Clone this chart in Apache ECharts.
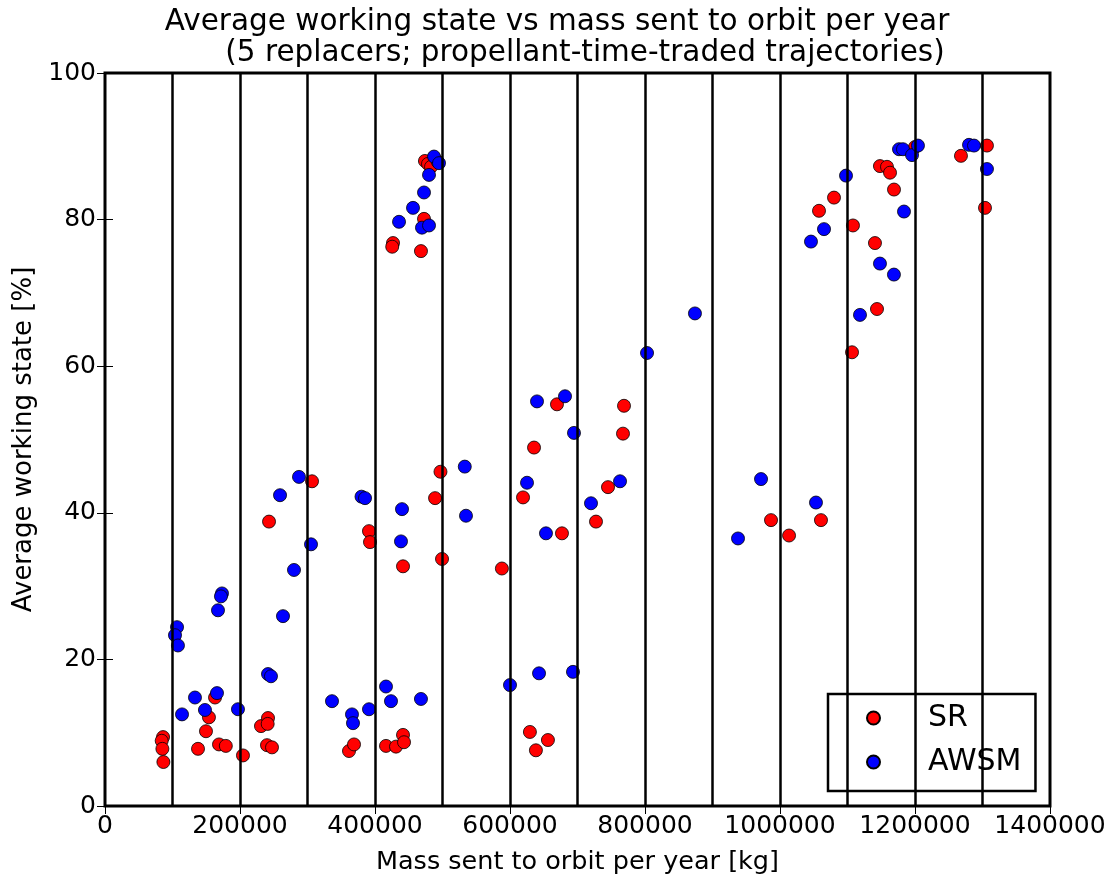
<!DOCTYPE html>
<html>
<head>
<meta charset="utf-8">
<script src="https://cdn.jsdelivr.net/npm/echarts@6/dist/echarts.min.js"></script>
<style>
  html, body { margin: 0; padding: 0; background: #fff; }
  #chart { width: 1113px; height: 880px; }
</style>
</head>
<body>
<div id="chart"></div>
<script>
// Mass sent to orbit per year [kg] vs average working state [%]
const srPoints = [
  [86000, 9.4], [84000, 8.9], [85000, 7.8], [86500, 6.0],
  [137800, 7.8], [149600, 10.2], [154000, 12.1], [163000, 14.8], [168900, 8.4], [179000, 8.2],
  [204400, 6.9], [231100, 10.9], [241500, 12.0], [241000, 11.2], [240000, 8.3], [247400, 8.0],
  [243000, 38.8], [306700, 44.3], [391100, 37.5], [392600, 36.0], [441500, 32.7],
  [489000, 42.0], [497000, 45.6], [499300, 33.7],
  [361500, 7.5], [368900, 8.4], [416300, 8.2], [431100, 8.1], [441500, 9.7], [443000, 8.7],
  [426700, 76.8], [425500, 76.3], [468100, 75.7], [472600, 80.1],
  [474000, 88.0], [478500, 87.6], [483000, 87.2], [493000, 87.9],
  [588000, 32.4], [629500, 10.1], [638400, 7.6], [656200, 9.0],
  [619300, 42.1], [635600, 48.9], [669600, 54.8], [677000, 37.2],
  [727400, 38.8], [745200, 43.5], [767400, 50.8], [768900, 54.6],
  [986700, 39.0], [1013400, 36.9], [1060700, 39.0],
  [1106700, 61.9], [1143700, 67.8],
  [1057800, 81.2], [1080000, 83.0], [1108100, 79.2], [1140700, 76.8],
  [1148100, 87.3], [1158500, 87.2], [1163000, 86.4], [1168900, 84.1],
  [1200000, 89.9], [1268100, 88.7], [1306600, 90.1], [1303700, 81.6]
];

const awsmPoints = [
  [106700, 24.4], [103700, 23.3], [108100, 21.9], [114100, 12.5], [133300, 14.8], [148100, 13.1],
  [165900, 15.4], [167400, 26.7], [173300, 29.0], [171800, 28.6], [197000, 13.2],
  [241500, 18.0], [245900, 17.7], [263700, 25.9], [259300, 42.4], [280000, 32.2], [287400, 44.9],
  [305200, 35.7], [336300, 14.3], [365900, 12.5], [367400, 11.3], [380000, 42.2], [385200, 42.0],
  [391100, 13.2], [416300, 16.3], [423700, 14.3], [438500, 36.1], [440000, 40.5], [468100, 14.6],
  [435600, 79.7], [456300, 81.6], [469600, 78.9], [480000, 79.2], [472600, 83.7], [480000, 86.1],
  [487400, 88.6], [494800, 87.7],
  [533000, 46.3], [534800, 39.6], [600000, 16.5], [625200, 44.1], [640000, 55.2], [643000, 18.1],
  [653300, 37.2], [681500, 55.9], [693300, 18.3], [694800, 50.9], [720000, 41.3], [763000, 44.3],
  [803000, 61.8], [874000, 67.2], [937800, 36.5], [971900, 44.6], [1053300, 41.4],
  [1045900, 77.0], [1065200, 78.7], [1097800, 86.0], [1118500, 67.0], [1148100, 74.0],
  [1168800, 72.5], [1183700, 81.1], [1176300, 89.6], [1182200, 89.6], [1195600, 88.8],
  [1204400, 90.1], [1280000, 90.2], [1287400, 90.1], [1306600, 86.9]
];

// vertical reference lines across the mass axis
const massLines = [100000, 200000, 300000, 400000, 500000, 600000, 700000,
                   800000, 900000, 1000000, 1100000, 1200000, 1300000];

const xTicks = { min: 0, max: 1400000, interval: 200000 };
const yTicks = { min: 0, max: 100, interval: 20 };

const FONT = 'DejaVu Sans';

const chart = echarts.init(document.getElementById('chart'), null, { renderer: 'canvas' });

const tickStyle = { show: true, inside: true, length: 8, lineStyle: { color: '#000', width: 1 } };
const titleText = { fontFamily: FONT, fontSize: 29.5, fontWeight: 'normal', color: '#000', lineHeight: 31 };

chart.setOption({
  backgroundColor: '#fff',
  animation: false,
  title: [
    {
      text: 'Average working state vs mass sent to orbit per year',
      left: 557, top: 7, textAlign: 'center', padding: 0,
      textStyle: titleText
    },
    {
      text: '(5 replacers; propellant-time-traded trajectories)',
      left: 585, top: 38, textAlign: 'center', padding: 0,
      textStyle: titleText
    }
  ],
  grid: {
    left: 105, right: 63, top: 73, bottom: 74,
    show: true, borderColor: '#000', borderWidth: 3, backgroundColor: 'transparent'
  },
  legend: {
    data: ['SR', 'AWSM'],
    orient: 'vertical',
    left: 828,
    top: 694,
    padding: [9, 14, 14, 38],
    itemGap: 14,
    itemWidth: 13,
    itemHeight: 13,
    borderColor: '#000',
    borderWidth: 2.5,
    backgroundColor: '#fff',
    textStyle: { fontFamily: FONT, fontSize: 30, color: '#000', padding: [0, 0, 0, 43] }
  },
  xAxis: [
    {
      type: 'value', position: 'bottom',
      min: xTicks.min, max: xTicks.max, interval: xTicks.interval,
      name: 'Mass sent to orbit per year [kg]',
      nameLocation: 'middle', nameGap: 43,
      nameTextStyle: { fontFamily: FONT, fontSize: 25.5, color: '#000' },
      axisLine: { show: false },
      axisTick: tickStyle,
      splitLine: { show: false },
      axisLabel: {
        fontFamily: FONT, fontSize: 25, color: '#000', margin: 8,
        formatter: v => String(v)
      }
    },
    {
      type: 'value', position: 'top',
      min: xTicks.min, max: xTicks.max, interval: xTicks.interval,
      axisLine: { show: false }, axisTick: tickStyle,
      splitLine: { show: false }, axisLabel: { show: false }
    }
  ],
  yAxis: [
    {
      type: 'value', position: 'left',
      min: yTicks.min, max: yTicks.max, interval: yTicks.interval,
      name: 'Average working state [%]',
      nameLocation: 'middle', nameGap: 67,
      nameTextStyle: { fontFamily: FONT, fontSize: 26, color: '#000' },
      axisLine: { show: false },
      axisTick: tickStyle,
      splitLine: { show: false },
      axisLabel: { fontFamily: FONT, fontSize: 25, color: '#000', margin: 9 }
    },
    {
      type: 'value', position: 'right',
      min: yTicks.min, max: yTicks.max, interval: yTicks.interval,
      axisLine: { show: false }, axisTick: tickStyle,
      splitLine: { show: false }, axisLabel: { show: false }
    }
  ],
  series: [
    {
      name: 'lines',
      type: 'scatter',
      data: [],
      z: 1,
      silent: true,
      markLine: {
        silent: true,
        symbol: ['none', 'none'],
        label: { show: false },
        lineStyle: { color: '#000', width: 2.5, type: 'solid' },
        data: massLines.map(v => ({ xAxis: v }))
      }
    },
    {
      name: 'SR',
      type: 'scatter',
      data: srPoints,
      symbol: 'circle',
      symbolSize: 13,
      z: 3,
      itemStyle: { color: '#ff0000', borderColor: '#000', borderWidth: 0.8, opacity: 1 }
    },
    {
      name: 'AWSM',
      type: 'scatter',
      data: awsmPoints,
      symbol: 'circle',
      symbolSize: 13,
      z: 4,
      itemStyle: { color: '#0000ff', borderColor: '#000', borderWidth: 0.8, opacity: 1 }
    }
  ]
});
</script>
</body>
</html>
